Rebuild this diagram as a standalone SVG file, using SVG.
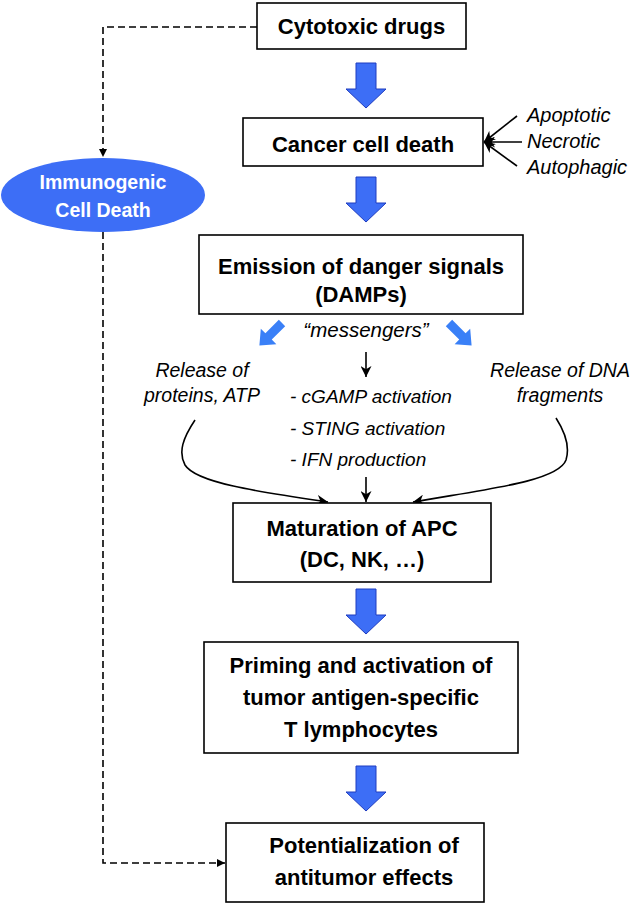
<svg xmlns="http://www.w3.org/2000/svg" xmlns:xlink="http://www.w3.org/1999/xlink" width="636" height="903" viewBox="0 0 636 903">
<style>
.box{fill:#fff;stroke:#000;stroke-width:1.6}
.t{font-family:"Liberation Sans",Arial,sans-serif;font-weight:bold;font-size:22px;fill:#000;text-anchor:middle}
.it{font-family:"Liberation Sans",Arial,sans-serif;font-style:italic;font-size:19px;fill:#000}
.big{fill:#3d6ef6;stroke:#1f3cc0;stroke-width:1}
.diag{fill:#3a80f7}
.dash{fill:none;stroke:#000;stroke-width:1.6;stroke-dasharray:7,4}
.ln{fill:none;stroke:#000;stroke-width:1.6}
</style>
<defs>
<path id="blk" d="M-10,0 H10 V26 H20 L0,45 L-20,26 H-10 Z"/>
<path id="dg" d="M-4.5,-17 H4.5 V2 H11 L0,15 L-11,2 H-4.5 Z"/>
<marker id="ah" viewBox="0 0 10 10" refX="10" refY="5" markerWidth="8" markerHeight="8" orient="auto" markerUnits="userSpaceOnUse">
<path d="M0,0 L10,5 L0,10 Z" fill="#000"/>
</marker>
<marker id="ahb" viewBox="0 0 10 10" refX="10" refY="5" markerWidth="11" markerHeight="11" orient="auto" markerUnits="userSpaceOnUse">
<path d="M0,0 L10,5 L0,10 L3,5 Z" fill="#000"/>
</marker>
</defs>

<g id="connectors">
<path class="dash" d="M257,27 H103 V157" marker-end="url(#ah)"/>
<path class="dash" d="M103,232 V863 H225" marker-end="url(#ah)"/>
<use xlink:href="#blk" href="#blk" class="big" transform="translate(366,63)"/>
<use xlink:href="#blk" href="#blk" class="big" transform="translate(366,177)"/>
<use xlink:href="#blk" href="#blk" class="big" transform="translate(366,589)"/>
<use xlink:href="#blk" href="#blk" class="big" transform="translate(366,766)"/>
<use xlink:href="#dg" href="#dg" class="diag" transform="translate(270,335) rotate(45)"/>
<use xlink:href="#dg" href="#dg" class="diag" transform="translate(461,335) rotate(-45)"/>
<path class="ln" d="M366,352 V377" marker-end="url(#ahb)"/>
<path class="ln" d="M366,477 V502" marker-end="url(#ahb)"/>
<path class="ln" d="M517,116 L484,142" marker-end="url(#ahb)"/>
<path class="ln" d="M522,142 L484,142" marker-end="url(#ahb)"/>
<path class="ln" d="M517,166 L484,142" marker-end="url(#ahb)"/>
<path class="ln" d="M195,420 C183,438 178,452 185,465 C196,483 260,492 328,502" marker-end="url(#ahb)"/>
<path class="ln" d="M556,418 C565,432 570,447 566,460 C558,482 480,490 413,502" marker-end="url(#ahb)"/>
</g>

<g id="cytotoxic">
<rect class="box" x="257" y="3" width="209" height="46"/>
<text class="t" x="361.5" y="34">Cytotoxic drugs</text>
</g>

<g id="cancer">
<rect class="box" x="243" y="118" width="240" height="48"/>
<text class="t" x="363" y="152">Cancer cell death</text>
</g>

<g id="death-types">
<text class="it" x="527" y="122" style="font-size:20px">Apoptotic</text>
<text class="it" x="527" y="148" style="font-size:20px">Necrotic</text>
<text class="it" x="527" y="174" style="font-size:20px">Autophagic</text>
</g>

<g id="icd">
<ellipse cx="103" cy="195" rx="102" ry="37" fill="#3d6ef6"/>
<text class="t" x="103" y="189" style="fill:#fff;font-size:19.5px">Immunogenic</text>
<text class="t" x="103" y="217" style="fill:#fff;font-size:19.5px">Cell Death</text>
</g>

<g id="emission">
<rect class="box" x="199" y="235" width="324" height="79"/>
<text class="t" x="361" y="274">Emission of danger signals</text>
<text class="t" x="361" y="302">(DAMPs)</text>
</g>

<g id="messengers">
<text class="it" x="366" y="337" text-anchor="middle" style="font-size:20.5px">“messengers”</text>
</g>

<g id="release-proteins">
<text class="it" x="202" y="377" text-anchor="middle" style="font-size:19.5px">Release of</text>
<text class="it" x="202" y="402" text-anchor="middle" style="font-size:19.5px">proteins, ATP</text>
</g>

<g id="sting">
<text class="it" x="290" y="403">- cGAMP activation</text>
<text class="it" x="290" y="435">- STING activation</text>
<text class="it" x="290" y="466">- IFN production</text>
</g>

<g id="release-dna">
<text class="it" x="560" y="377" text-anchor="middle" style="font-size:19.5px">Release of DNA</text>
<text class="it" x="560" y="402" text-anchor="middle" style="font-size:19.5px">fragments</text>
</g>

<g id="maturation">
<rect class="box" x="233" y="503" width="258" height="79"/>
<text class="t" x="362" y="536">Maturation of APC</text>
<text class="t" x="362" y="567">(DC, NK, …)</text>
</g>

<g id="priming">
<rect class="box" x="204" y="642" width="314" height="111"/>
<text class="t" x="361" y="673">Priming and activation of</text>
<text class="t" x="361" y="705">tumor antigen-specific</text>
<text class="t" x="361" y="737">T lymphocytes</text>
</g>

<g id="potentialization">
<rect class="box" x="226" y="823" width="258" height="79"/>
<text class="t" x="364" y="853">Potentialization of</text>
<text class="t" x="364" y="885">antitumor effects</text>
</g>
</svg>
